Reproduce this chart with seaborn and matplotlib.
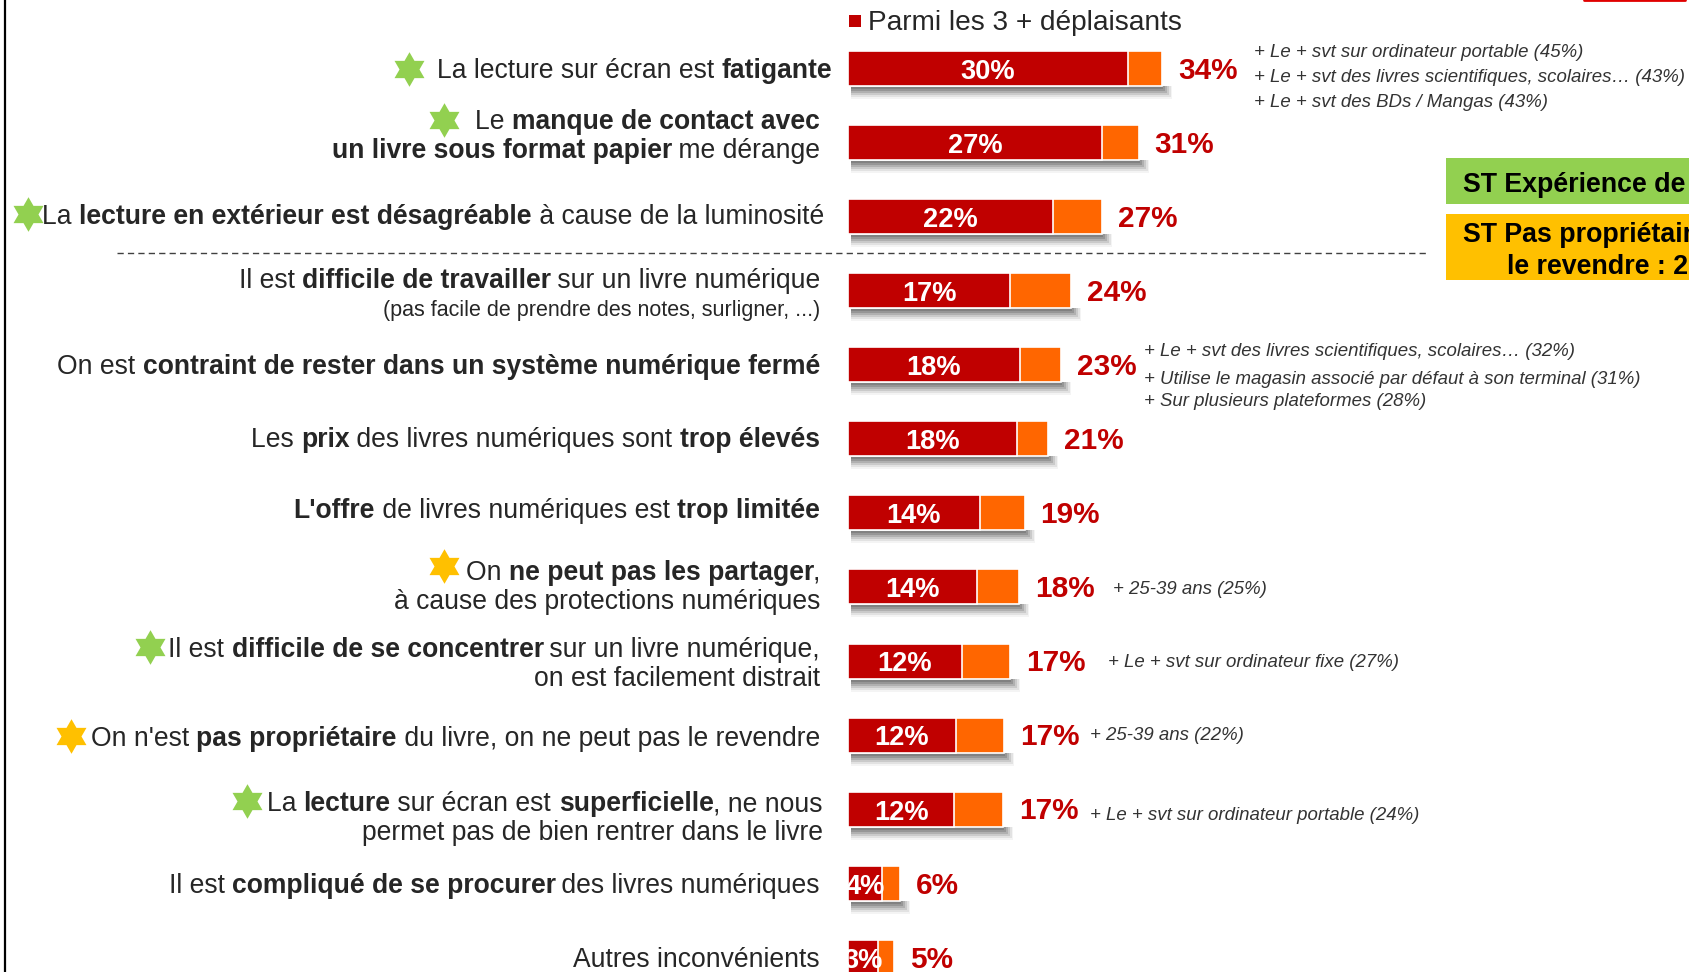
import matplotlib
matplotlib.use("Agg")
import matplotlib.pyplot as plt
import seaborn as sns
import pandas as pd
import numpy as np
from matplotlib.path import Path
from matplotlib.patches import Rectangle

W, H = 1689, 972
BODY = "Liberation Sans"

# ---- data ----
categories = ["fatigante", "contact", "exterieur", "travailler", "ferme", "prix", "offre",
              "partager", "concentrer", "proprietaire", "superficielle", "procurer", "autres"]
top3_plus = [30.0, 27.2, 21.9, 17.4, 18.4, 18.1, 14.1, 13.8, 12.2, 11.6, 11.4, 3.7, 3.2]
total = [33.6, 31.1, 27.2, 23.9, 22.8, 21.4, 18.9, 18.3, 17.4, 16.7, 16.6, 5.6, 4.9]
top3_labels = ["30%", "27%", "22%", "17%", "18%", "18%", "14%", "14%", "12%", "12%", "12%", "4%", "3%"]
total_labels = ["34%", "31%", "27%", "24%", "23%", "21%", "19%", "18%", "17%", "17%", "17%", "6%", "5%"]
legend_label = "Parmi les 3 + déplaisants"
box_green = "ST Expérience de"
box_yellow = ["ST Pas propriétair", "le revendre : 29"]

# left-hand labels: (text, bold?) runs for each line
lab_1 = [[("La lecture sur écran est ", 0), ("fatigante", 1)]]
lab_2 = [[("Le ", 0), ("manque de contact avec", 1)],
         [("un livre sous format papier", 1), (" me dérange", 0)]]
lab_3 = [[("La ", 0), ("lecture en extérieur est désagréable", 1), (" à cause de la luminosité", 0)]]
lab_4 = [[("Il est ", 0), ("difficile de travailler", 1), (" sur un livre numérique", 0)]]
lab_4b = "(pas facile de prendre des notes, surligner, ...)"
lab_5 = [[("On est ", 0), ("contraint de rester dans un système numérique fermé", 1)]]
lab_6 = [[("Les ", 0), ("prix", 1), (" des livres numériques sont ", 0), ("trop élevés", 1)]]
lab_7 = [[("L'offre", 1), (" de livres numériques est ", 0), ("trop limitée", 1)]]
lab_8 = [[("On ", 0), ("ne peut pas les partager", 1), (",", 0)],
         [("à cause des protections numériques", 0)]]
lab_9 = [[("Il est ", 0), ("difficile de se concentrer", 1), (" sur un livre numérique,", 0)],
         [("on est facilement distrait", 0)]]
lab_10 = [[("On n'est ", 0), ("pas propriétaire", 1), (" du livre, on ne peut pas le revendre", 0)]]
lab_11 = [[("La ", 0), ("lecture", 1), (" sur écran est ", 0), ("superficielle", 1), (", ne nous", 0)],
          [("permet pas de bien rentrer dans le livre", 0)]]
lab_12 = [[("Il est ", 0), ("compliqué de se procurer", 1), (" des livres numériques", 0)]]
lab_13 = [[("Autres inconvénients", 0)]]

notes_1 = ["+ Le + svt sur ordinateur portable (45%)",
           "+ Le + svt des livres scientifiques, scolaires… (43%)",
           "+ Le + svt des BDs / Mangas (43%)"]
notes_5 = ["+ Le + svt des livres scientifiques, scolaires… (32%)",
           "+ Utilise le magasin associé par défaut à son terminal (31%)",
           "+ Sur plusieurs plateformes (28%)"]
note_8 = "+ 25-39 ans (25%)"
note_9 = "+ Le + svt sur ordinateur fixe (27%)"
note_10 = "+ 25-39 ans (22%)"
note_11 = "+ Le + svt sur ordinateur portable (24%)"

# ---- styles ----
RED, ORANGE, GREEN, YELLOW = "#C00000", "#FF6600", "#92D050", "#FFC000"
INK = "#262626"
BAR_X0, PX_PER_PCT, ROW0, ROW_STEP, BAR_H = 847.8, 9.35, 68.3, 74.09, 35

sns.set_theme(style="white")
plt.rcParams["font.family"] = [BODY, "DejaVu Sans"]
fig = plt.figure(figsize=(W / 100, H / 100), dpi=100, facecolor="white")

# Bars: percent on x, categories on y
ax = fig.add_axes([0, 0, 1, 1], facecolor="none")
df = pd.DataFrame({"cat": categories, "top3": top3_plus, "total": total})
rows = np.arange(len(categories))

# soft shadow under each bar: stacked translucent strips fading downward and rightward
for depth, extra, alpha in [(13, 10, .05), (11, 9, .09), (9, 7, .13), (7, 5, .17), (5, 3, .2), (3, 1, .2)]:
    ax.barh(rows + (BAR_H / 2 + depth / 2) / ROW_STEP, df["total"] + extra / PX_PER_PCT - 3 / PX_PER_PCT,
            left=3 / PX_PER_PCT, height=depth / ROW_STEP, color="#303030", alpha=alpha, lw=0, zorder=1)

bar_w = BAR_H / ROW_STEP
sns.barplot(data=df, y="cat", x="total", color=ORANGE, saturation=1, width=bar_w, ax=ax,
            edgecolor="white", linewidth=1.2, zorder=2)
sns.barplot(data=df, y="cat", x="top3", color=RED, saturation=1, width=bar_w, ax=ax,
            edgecolor="white", linewidth=1.2, zorder=3)
ax.set_xlim(-BAR_X0 / PX_PER_PCT, (W - BAR_X0) / PX_PER_PCT)
ax.set_ylim((H - ROW0) / ROW_STEP, -ROW0 / ROW_STEP)
ax.set_axis_off()

for i, (a, b, la, lb) in enumerate(zip(top3_plus, total, top3_labels, total_labels)):
    ax.text(a * .5, i + .045, la, color="white", fontweight="bold", fontsize=19.6,
            ha="center", va="center", zorder=5)
    ax.text(b + 1.72, i + .03, lb, color=RED, fontweight="bold", fontsize=21.4,
            ha="left", va="center", zorder=5)

# Overlay in image pixels for the page furniture
ov = fig.add_axes([0, 0, 1, 1], facecolor="none")
ov.set_xlim(0, W)
ov.set_ylim(H, 0)
ov.set_axis_off()
renderer = fig.canvas.get_renderer()


def width(s, weight, size):
    t = ov.text(0, 0, "." + s + ".", fontsize=size, fontweight=weight)
    w1 = t.get_window_extent(renderer).width
    t.set_text("..")
    w0 = t.get_window_extent(renderer).width
    t.remove()
    return w1 - w0


def runs(line, right, base, size=19.1):
    x = right
    for s, b in reversed(line):
        w = "bold" if b else "normal"
        x -= width(s, w, size)
        ov.text(x, base, s, fontsize=size, fontweight=w, color=INK, ha="left", va="baseline")
    return x


LABELS = [
    (lab_1, 832, [78]),
    (lab_2, 820, [129, 158]),
    (lab_3, 824, [224]),
    (lab_4, 820, [288]),
    (lab_5, 820, [374]),
    (lab_6, 820, [447]),
    (lab_7, 820, [518]),
    (lab_8, 820, [580, 609]),
    (lab_9, 820, [657, 686]),
    (lab_10, 820, [746]),
    (lab_11, 823, [811, 840]),
    (lab_12, 820, [893]),
    (lab_13, 820, [967]),
]
for lines, right, bases in LABELS:
    for ln, base in zip(lines, bases):
        runs(ln, right, base)
ov.text(820, 316, lab_4b, fontsize=15.5, color=INK, ha="right", va="baseline")

# stars
star = Path.unit_regular_star(6, 0.577)
star_pos = {GREEN: [(409, 69), (444, 120), (28, 214), (150, 647), (247, 801)],
            YELLOW: [(444, 566), (71, 736)]}
for c, pts in star_pos.items():
    ov.scatter(*zip(*pts), marker=star, s=620, color=c, lw=0, zorder=4)

# legend
ov.add_patch(Rectangle((849, 15), 12, 12, color=RED, lw=0))
ov.text(868, 30, legend_label, fontsize=20.2, color=INK, ha="left", va="baseline")

# side notes
NOTE = dict(fontsize=13.45, style="italic", color="#333333", ha="left", va="baseline")
for s, y in zip(notes_1, [57, 82, 107]):
    ov.text(1254, y, s, **NOTE)
for s, y in zip(notes_5, [356, 384, 406]):
    ov.text(1144, y, s, **NOTE)
ov.text(1113, 594, note_8, **NOTE)
ov.text(1108, 667, note_9, **NOTE)
ov.text(1090, 740, note_10, **NOTE)
ov.text(1090, 820, note_11, **NOTE)

# coloured boxes, cut by the image edge
ov.add_patch(Rectangle((1446, 158), 243, 46, color=GREEN, lw=0))
ov.add_patch(Rectangle((1446, 214), 243, 66, color=YELLOW, lw=0))
BOX = dict(fontsize=19.3, fontweight="bold", color="black", va="baseline", ha="left", clip_on=True)
ov.text(1463, 192, box_green, **BOX)
ov.text(1463, 242, box_yellow[0], **BOX)
ov.text(1507, 274, box_yellow[1], **BOX)

# rules
ov.plot([117, 1426], [253, 253], color="#404040", lw=1, dashes=(4.5, 3))
ov.plot([5, 5], [0, H], color="black", lw=1.6)
ov.plot([1584, 1685], [0.5, 0.5], color="#E00000", lw=2)

fig.savefig("out.png", dpi=100)
